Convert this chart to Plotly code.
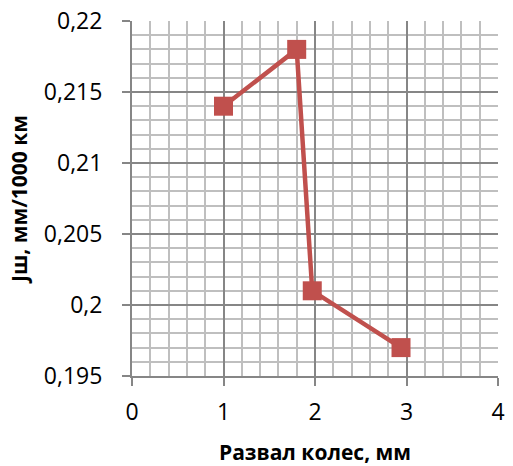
import plotly.graph_objects as go

x_vals = [1.0, 1.8, 1.97, 2.94]
y_vals = [0.214, 0.218, 0.201, 0.197]

x_ticks = [0, 1, 2, 3, 4]
x_tick_labels = ["0", "1", "2", "3", "4"]
y_ticks = [0.195, 0.2, 0.205, 0.21, 0.215, 0.22]
y_tick_labels = ["0,195", "0,2", "0,205", "0,21", "0,215", "0,22"]

x_title = "Развал колес, мм"
y_title = "Jш, мм/1000 км"

red = "#C0504D"
major = "#868686"
minor_c = "#BFBFBF"
font_family = "Open Sans"

fig = go.Figure()
fig.add_trace(go.Scatter(
    x=x_vals, y=y_vals, mode="lines+markers",
    line=dict(color=red, width=4.5),
    marker=dict(symbol="square", size=19, color=red),
    showlegend=False,
))

axis_common = dict(
    showgrid=True, gridcolor=major, gridwidth=2,
    showline=True, linecolor=major, linewidth=2, mirror=False,
    ticks="outside", ticklen=8, tickwidth=2, tickcolor=major,
    zeroline=False, automargin=False,
    tickfont=dict(family=font_family, size=23, color="#000000"),
)

fig.update_layout(
    width=513, height=466,
    margin=dict(l=132, r=15, t=21, b=90),
    paper_bgcolor="white", plot_bgcolor="white",
    xaxis=dict(
        range=[0, 4], tickvals=x_ticks, ticktext=x_tick_labels,
        minor=dict(dtick=0.2, tick0=0, showgrid=True, gridcolor=minor_c, gridwidth=2, ticks=""),
        title=dict(text=x_title, font=dict(family=font_family, size=21, color="#000000", weight="bold"), standoff=20),
        ticklabelstandoff=6,
        **axis_common,
    ),
    yaxis=dict(
        range=[0.195, 0.22], tickvals=y_ticks, ticktext=y_tick_labels,
        minor=dict(dtick=0.001, tick0=0.195, showgrid=True, gridcolor=minor_c, gridwidth=2, ticks=""),
        title=dict(text=y_title, font=dict(family=font_family, size=21, color="#000000", weight="bold"), standoff=10),
        ticklabelstandoff=15,
        **axis_common,
    ),
)

fig.write_html("out.html")
